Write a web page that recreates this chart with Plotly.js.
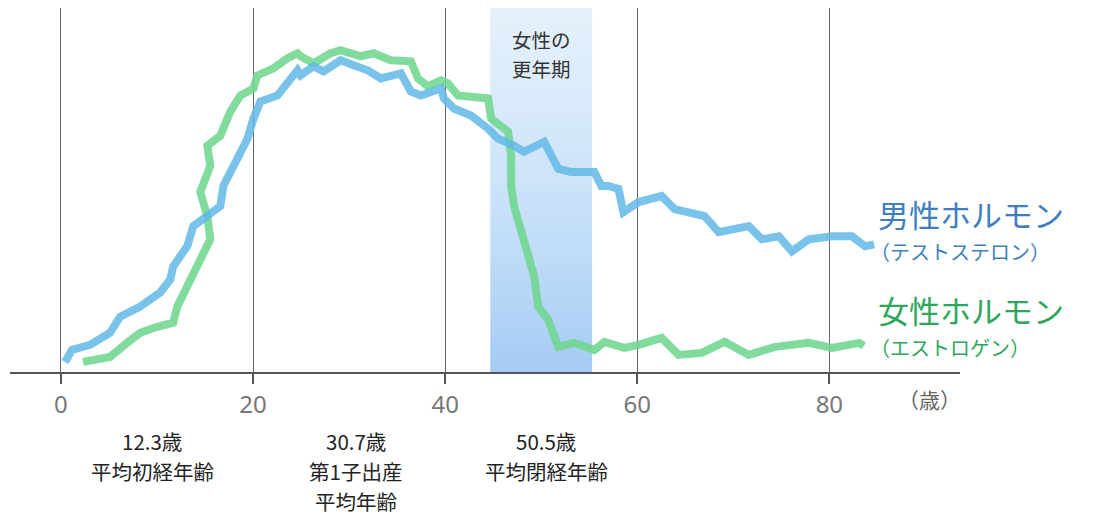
<!DOCTYPE html>
<html><head><meta charset="utf-8">
<script src="https://cdn.plot.ly/plotly-3.0.1.min.js"></script>
<style>html,body{margin:0;padding:0;background:#fff}#chart{width:1105px;height:518px}</style>
</head><body><div id="chart"></div>
<script>
// Male hormone (testosterone) – age and relative level
const maleAge = [0.42,1.15,3.03,5.11,6.16,8.25,10.33,11.38,11.69,13.15,13.78,15.24,16.6,16.91,17.64,18.68,19.42,20.04,20.77,22.55,23.59,24.63,24.95,26.3,27.35,29.12,30.48,31.94,33.3,35.39,36.43,37.47,39.56,39.87,40.92,42.69,44.47,45.51,47.18,48.23,50.31,51.77,53.13,55.53,56.26,56.99,58.04,58.56,60.13,62.53,63.88,67.01,68.48,71.61,72.96,74.74,76.1,77.87,80.27,82.36,83.72,84.66];
const maleLevel = [10,22,27,39,55,65,79,92,105,125,145,155,165,185,199,215,232,252,269,275,289,300,295,304,299,310,305,300,292,297,279,275,282,272,262,255,242,232,225,219,229,202,199,199,185,185,182,159,169,175,162,155,139,145,132,135,120,132,135,135,125,127];
// Female hormone (estrogen)
const femaleAge = [2.3,5.11,6.89,8.25,10.02,11.69,12.11,13.15,14.2,15.55,15.24,14.51,15.55,15.24,16.6,17.64,18.68,20.04,20.46,22.13,23.59,24.63,24.95,26.3,28.08,29.12,31.21,32.57,34.34,36.43,37.16,38.2,39.56,40.29,41.34,44.47,44.78,46.56,46.87,46.87,47.18,47.91,48.64,49.27,49.69,50.73,51.77,53.44,55.53,56.58,58.66,60.13,62.53,64.3,66.7,69.1,71.61,74.32,77.87,80.27,83.09,83.6];
const femaleLevel = [10,15,29,39,45,49,65,85,105,132,155,179,205,225,235,259,275,282,295,302,312,317,314,307,317,320,314,317,310,309,292,284,290,287,275,272,252,239,215,185,165,139,119,95,65,52,25,29,22,30,24,27,34,17,19,30,17,25,29,24,29,26];
// Menopause period
const menoStart = 44.7, menoEnd = 55.3;
const tickVals = [0,20,40,60,80];
const tickText = ['0','20','40','60','80'];
const unitLabel = '（歳）';
const maleLabel = ['男性ホルモン','（テストステロン）'];
const femaleLabel = ['女性ホルモン','（エストロゲン）'];
const bandLabel = ['女性の','更年期'];
const eventAges = [12.3, 30.7, 50.5];
const eventLines = [['12.3歳','平均初経年齢'], ['30.7歳','第1子出産','平均年齢'], ['50.5歳','平均閉経年齢']];

const yMax = 362;
const jp = '"Noto Sans CJK JP", "Noto Sans", sans-serif';
const eventShift = [-27, 0, 0];

const traces = [
  {x:[menoStart,menoEnd,menoEnd,menoStart,menoStart], y:[0,0,yMax,yMax,0], mode:'lines', line:{width:0},
   fill:'toself', fillgradient:{type:'vertical', colorscale:[[0,'rgba(115,175,238,0.65)'],[0.45,'rgba(145,195,242,0.5)'],[1,'rgba(190,220,248,0.4)']]},
   hoverinfo:'skip', showlegend:false},
  {x:femaleAge, y:femaleLevel, mode:'lines', line:{color:'rgba(112,214,142,0.88)', width:8}, showlegend:false},
  {x:maleAge, y:maleLevel, mode:'lines', line:{color:'rgba(98,184,232,0.85)', width:8}, showlegend:false}
];

const annotations = [];
// bottom event labels: line centres 441/471/501 px (axis baseline at 372 px)
eventAges.forEach((age, k) => {
  eventLines[k].forEach((t, i) => {
    annotations.push({x:age, xref:'x', y:0, yref:'y', xshift:eventShift[k], yshift:-(69 + 30*i), yanchor:'middle',
      text:t, showarrow:false, borderpad:0, font:{family:jp, size:20.5, color:'#222'}});
  });
});
bandLabel.forEach((t, i) => {
  annotations.push({x:(menoStart+menoEnd)/2, xref:'x', y:yMax, yref:'y', yshift:-(31 + 29*i), yanchor:'middle',
    text:t, showarrow:false, borderpad:0, font:{family:jp, size:19.5, color:'#333'}});
});
annotations.push({x:90.4, xref:'x', y:0, yref:'y', yshift:-27, text:unitLabel, showarrow:false, font:{family:jp, size:21, color:'#666'}});
const lx = 85.0;
const mEnd = maleLevel[maleLevel.length-1], fEnd = femaleLevel[femaleLevel.length-1];
annotations.push({x:lx, xref:'x', y:mEnd, yref:'y', yshift:31, yanchor:'middle', xanchor:'left', borderpad:0, text:maleLabel[0], showarrow:false, font:{family:jp, size:31, color:'#3f7fbf'}});
annotations.push({x:lx, xref:'x', y:mEnd, yref:'y', xshift:-8, yshift:-7, yanchor:'middle', xanchor:'left', borderpad:0, text:maleLabel[1], showarrow:false, font:{family:jp, size:20, color:'#3f7fbf'}});
annotations.push({x:lx, xref:'x', y:fEnd, yref:'y', yshift:36, yanchor:'middle', xanchor:'left', borderpad:0, text:femaleLabel[0], showarrow:false, font:{family:jp, size:31, color:'#2ea65c'}});
annotations.push({x:lx, xref:'x', y:fEnd, yref:'y', xshift:-8, yshift:-2, yanchor:'middle', xanchor:'left', borderpad:0, text:femaleLabel[1], showarrow:false, font:{family:jp, size:20, color:'#2ea65c'}});

const layout = {
  width:1105, height:518,
  margin:{l:10, r:145, t:8, b:146},
  paper_bgcolor:'#fff', plot_bgcolor:'#fff',
  xaxis:{range:[-5.3,93.6], tickvals:tickVals, ticktext:tickText, showgrid:true, gridcolor:'#666', gridwidth:1,
    zeroline:false, showline:true, linecolor:'#555', linewidth:2, ticks:'outside', ticklen:10, tickwidth:2, tickcolor:'#555',
    tickfont:{family:'"Noto Sans", sans-serif', size:24, color:'#777'}, fixedrange:true},
  yaxis:{range:[0,yMax], showgrid:false, zeroline:false, showticklabels:false, showline:false, fixedrange:true},
  annotations: annotations,
  showlegend:false
};
Plotly.newPlot('chart', traces, layout, {displayModeBar:false, staticPlot:true});
</script></body></html>
